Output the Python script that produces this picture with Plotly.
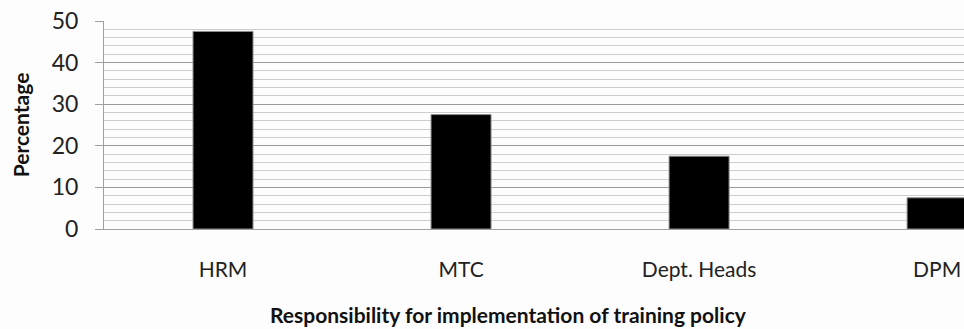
import plotly.graph_objects as go

# Who is responsible for implementing the training policy (% of respondents)
categories = ["HRM", "MTC", "Dept. Heads", "DPM"]
percentages = [47.5, 27.5, 17.5, 7.5]
y_ticks = [0, 10, 20, 30, 40, 50]

W, H = 964, 329
left, top, bottom = 104, 21, 100

font_family = "Lato, 'Open Sans', sans-serif"
text_color = "#222222"

fig = go.Figure(
    go.Bar(
        x=categories,
        y=percentages,
        width=0.252,
        marker=dict(color="#000000", line=dict(color="#8c8c8c", width=1)),
        hoverinfo="x+y",
    )
)

fig.update_layout(
    width=W,
    height=H,
    margin=dict(l=left, r=0, t=top, b=bottom, pad=0),
    paper_bgcolor="#fdfdfd",
    plot_bgcolor="#fdfdfd",
    showlegend=False,
    font=dict(family=font_family, color=text_color),
)

fig.update_xaxes(
    type="category",
    range=[-0.5, 3.113],
    showgrid=False,
    showline=True,
    linecolor="#a0a0a0",
    linewidth=1,
    ticks="",
    ticklabelstandoff=22,
    tickfont=dict(size=21, color=text_color),
)

fig.update_yaxes(
    range=[0, 50],
    tickvals=y_ticks,
    ticktext=[str(v) for v in y_ticks],
    showgrid=True,
    gridcolor="#9a9a9a",
    gridwidth=1,
    minor=dict(dtick=2, showgrid=True, gridcolor="#cdcdcd", gridwidth=1),
    showline=True,
    linecolor="#a0a0a0",
    linewidth=1,
    ticks="outside",
    ticklen=8,
    tickcolor="#a0a0a0",
    ticklabelstandoff=12,
    tickfont=dict(size=23, color=text_color),
    zeroline=False,
    title=dict(
        text="<b>Percentage</b>",
        font=dict(size=21, color="#111111"),
        standoff=16,
    ),
)

# x-axis title placed under the category labels
fig.add_annotation(
    text="<b>Responsibility for implementation of training policy</b>",
    xref="paper",
    yref="paper",
    x=(508 - left) / (W - left),
    y=-(314 - (H - bottom)) / (H - top - bottom),
    xanchor="center",
    yanchor="middle",
    showarrow=False,
    font=dict(size=21, color="#111111", family=font_family),
)

fig.write_html("out.html")
